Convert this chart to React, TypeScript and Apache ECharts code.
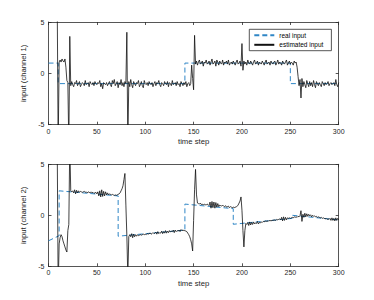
import React, { useEffect, useRef } from "react";
import * as echarts from "echarts";

const X_MIN = 0;
const X_MAX = 300;
const X_INTERVAL = 50;
const Y_MIN = -5;
const Y_MAX = 5;
const Y_INTERVAL = 5;

const SERIES_NAMES = ["real input", "estimated input"];
const Y_NAMES = ["input (channel 1)", "input (channel 2)"];
const X_NAME = "time step";

// real input breakpoints [time step, value]
const realCh1: [number, number][] = [
  [0, 1], [10, 1], [10, -1], [141, -1], [141, 1], [250, 1], [250, -1], [300, -1],
];
const realCh2: [number, number][] = [
  [0, -2.5], [11, -2.0], [11, 2.4], [72, 1.9], [72, -2.05], [141, -1.45], [141, 1.1],
  [191, 0.65], [191, -0.88], [252, -0.3], [252, 0.0], [300, -0.45],
];

// estimated input, one value per time step starting at EST_START
const EST_START = 9;
const estCh1: number[] = [
  7, -7,
  1.1, 1.3, 1.1, 1.4, 1.2, 1.1, 1.4, 0.6, -0.7, -0.9,
  -7, 3.6, -1.2, -0.8, -1.1, -1.3, -0.9, -1.0, -0.7, -1.2,
  -1.0, -0.8, -1.3, -1.1, -0.9, -1.0, -1.2, -0.7, -1.1, -1.0,
  -0.9, -1.3, -0.8, -1.0, -1.1, -0.9, -1.2, -0.8, -1.0, -1.1,
  -0.9, -1.0, -0.7, -1.3, -1.0, -1.5, -0.9, -1.0, -1.1, -0.9,
  -1.2, -1.0, -0.8, -1.1, -1.3, -0.7, -1.0, -0.6, -1.2, -1.0,
  -0.8, -1.4, -0.9, -1.1, -0.6, -1.2, -0.9, -1.3, -0.8, -1.0,
  4.0, -7, -0.8, -1.3, -0.6, -1.1, -1.4, -0.8, -1.0, -1.2,
  -0.9, -1.0, -0.7, -1.3, -1.1, -0.8, -1.2, -1.4, -0.7, -1.0,
  -1.1, -0.9, -1.2, -0.8, -1.0, -1.1, -0.9, -1.3, -1.0, -0.8,
  -1.2, -0.9, -1.0, -0.7, -1.1, -1.3, -0.9, -1.0, -1.2, -0.8,
  -1.0, -1.1, -0.8, -1.3, -0.9, -1.0, -1.2, -0.7, -1.1, -1.0,
  -0.9, -1.2, -0.8, -1.1, -1.0, -1.3, -0.8, -1.0, -1.2, -0.9,
  -1.1, -0.8, -1.3, -1.0, -0.9, -1.2, -1.0, 0.8, -0.5, -1.6,
  3.7, 0.9, 1.2, 0.8, 1.1, 1.3, 0.9, 1.0, 1.2, 0.7,
  1.1, 1.0, 1.3, 0.9, 1.0, 1.2, 0.8, 1.1, 1.4, 0.9,
  1.0, 1.2, 0.7, 1.3, 1.1, 0.8, 1.2, 1.0, 0.9, 1.3,
  0.8, 1.1, 1.0, 1.2, 0.9, 1.3, 0.8, 1.0, 1.1, 0.9,
  1.2, 1.0, 0.8, 1.1, 1.3, 0.9, 1.0, 1.2, 0.7, 2.9,
  0.3, 1.2, 0.9, 1.1, 0.8, 1.3, 1.0, 0.9, 1.2, 1.0,
  0.8, 1.1, 1.3, 0.9, 1.0, 1.2, 0.8, 1.1, 1.0, 0.9,
  1.2, 1.0, 0.8, 1.1, 1.3, 0.9, 1.0, 1.1, 0.8, 1.2,
  1.0, 0.9, 1.1, 1.2, 0.8, 1.0, 1.3, 0.9, 1.1, 1.0,
  0.8, 1.2, 1.0, 0.9, 1.1, 1.3, 0.8, 1.0, 1.2, 0.9,
  1.1, 1.0, 0.8, 1.2, 1.0, 1.1, 0.6, -0.3, -1.2, -0.6,
  -2.4, -0.5, -1.3, -0.8, -1.1, -1.4, -0.7, -1.0, -1.3, -0.8,
  -1.2, -0.9, -1.3, -0.7, -1.1, -1.4, -0.8, -1.0, -1.2, -0.9,
  -1.1, -1.3, -0.8, -1.0, -1.2, -0.9, -1.1, -1.0, -0.8, -1.2,
  -1.0, -0.9, -1.1, -1.0, -0.9, -1.2, -0.6, -1.1, -1.3, -0.9,
];
const estCh2: number[] = [
  7, -7,
  -2.8, -2.2, -1.9, -2.1, -2.5, -2.8, -3.1, -3.4, -3.6, -1.5,
  -0.9, 7, 2.4, 2.3, 2.4, 2.2, 2.5, 2.1, 2.45, 2.2,
  2.4, 2.25, 2.35, 2.3, 2.25, 2.3, 2.35, 2.25, 2.3, 2.2,
  2.3, 2.25, 2.2, 2.3, 2.2, 2.25, 2.15, 2.2, 2.25, 2.1,
  2.3, 1.9, 2.4, 1.8, 2.5, 1.85, 2.35, 1.9, 2.3, 2.0,
  2.2, 2.0, 2.1, 2.05, 2.0, 2.05, 2.0, 1.95, 2.0, 1.95,
  2.0, 2.05, 2.1, 2.2, 2.4, 2.6, 2.9, 3.5, 4.1, 1.0,
  -2.0, -6, -2.1, -1.9, -2.1, -1.8, -2.2, -1.85, -2.1, -1.9,
  -2.05, -1.9, -2.0, -1.95, -1.9, -1.95, -1.9, -1.85, -1.9, -1.85,
  -1.9, -1.8, -1.85, -1.8, -1.75, -1.85, -1.8, -1.7, -1.8, -1.75,
  -1.65, -1.85, -1.6, -1.8, -1.7, -1.75, -1.55, -1.8, -1.6, -1.75,
  -1.5, -1.75, -1.55, -1.7, -1.5, -1.65, -1.55, -1.6, -1.45, -1.7,
  -1.45, -1.6, -1.5, -1.55, -1.45, -1.6, -1.4, -1.5, -1.45, -1.5,
  -1.5, -1.55, -1.6, -1.75, -1.9, -2.1, -2.4, -2.8, -3.5, -0.5,
  2.5, 4.5, 2.0, 1.2, 1.15, 1.1, 1.2, 1.05, 1.1, 1.0,
  1.1, 1.05, 1.0, 1.1, 1.05, 0.95, 1.3, 0.7, 1.35, 0.75,
  1.3, 0.7, 1.25, 0.8, 1.15, 0.85, 1.0, 0.95, 0.9, 1.0,
  0.9, 0.85, 0.95, 0.8, 0.85, 0.9, 0.75, 0.85, 0.8, 0.75,
  0.8, 0.75, 0.8, 0.8, 0.9, 1.0, 1.2, 1.4, 1.8, 0.5,
  -1.5, -3.1, -1.5, -0.8, -0.9, -0.7, -1.0, -0.65, -0.95, -0.7,
  -0.9, -0.65, -0.85, -0.75, -0.8, -0.6, -0.85, -0.7, -0.75, -0.65,
  -0.7, -0.6, -0.65, -0.55, -0.6, -0.55, -0.6, -0.5, -0.55, -0.5,
  -0.55, -0.45, -0.5, -0.45, -0.5, -0.4, -0.45, -0.4, -0.35, -0.45,
  -0.2, -0.55, -0.15, -0.5, -0.2, -0.45, -0.25, -0.3, -0.25, -0.3,
  -0.25, -0.2, -0.25, -0.15, -0.2, -0.15, -0.2, -0.1, -0.15, -0.05,
  0.45, -0.6, 0.1, -0.2, 0.2, -0.15, 0.15, -0.1, 0.1, -0.05,
  0.05, -0.15, 0.0, -0.1, -0.05, -0.15, -0.1, -0.2, -0.15, -0.2,
  -0.25, -0.2, -0.3, -0.25, -0.3, -0.35, -0.3, -0.4, -0.35, -0.4,
  -0.3, -0.5, -0.25, -0.5, -0.3, -0.55, -0.25, -0.5, -0.3, -0.45,
];

const FONT = "'Liberation Sans', Arial, Helvetica, sans-serif";
const AXIS_COLOR = "#2b2b2b";
const TEXT_COLOR = "#262626";
const BLUE = "#2f86c6";

const toPairs = (vals: number[]) => vals.map((v, i) => [EST_START + i, v]);

export default function App() {
  const ref = useRef<HTMLDivElement>(null);
  useEffect(() => {
    if (!ref.current) return;
    const chart = echarts.init(ref.current, undefined, { renderer: "svg" });
    const grids = [
      { left: 48.5, top: 22, width: 290.2, height: 102.7 },
      { left: 48.5, top: 164.3, width: 290.2, height: 102 },
    ];
    const xAxes: any[] = [];
    const yAxes: any[] = [];
    grids.forEach((_, gi) => {
      const common = {
        gridIndex: gi,
        type: "value",
        axisLine: { show: true, onZero: false, lineStyle: { color: AXIS_COLOR, width: 0.8 } },
        axisTick: { show: true, inside: true, length: 3, lineStyle: { color: AXIS_COLOR, width: 0.8 } },
        splitLine: { show: false },
      };
      xAxes.push({
        ...common,
        position: "bottom",
        min: X_MIN,
        max: X_MAX,
        interval: X_INTERVAL,
        axisLabel: { show: true, fontSize: 7, color: TEXT_COLOR, fontFamily: FONT, margin: 3 },
        name: X_NAME,
        nameLocation: "middle",
        nameGap: 13,
        nameTextStyle: { fontSize: 7.7, color: TEXT_COLOR, fontFamily: FONT, fontWeight: "normal" },
      });
      xAxes.push({
        ...common,
        position: "top",
        min: X_MIN,
        max: X_MAX,
        interval: X_INTERVAL,
        axisLabel: { show: false },
      });
      yAxes.push({
        ...common,
        position: "left",
        min: Y_MIN,
        max: Y_MAX,
        interval: Y_INTERVAL,
        axisLabel: { show: true, fontSize: 7, color: TEXT_COLOR, fontFamily: FONT, margin: 4 },
        name: Y_NAMES[gi],
        nameLocation: "middle",
        nameGap: 12,
        nameTextStyle: { fontSize: 7.7, color: TEXT_COLOR, fontFamily: FONT, fontWeight: "normal" },
      });
      yAxes.push({
        ...common,
        position: "right",
        min: Y_MIN,
        max: Y_MAX,
        interval: Y_INTERVAL,
        axisLabel: { show: false },
      });
    });

    const reals = [realCh1, realCh2];
    const ests = [estCh1, estCh2];
    const series: any[] = [];
    grids.forEach((_, gi) => {
      series.push({
        name: SERIES_NAMES[0],
        type: "line",
        xAxisIndex: gi * 2,
        yAxisIndex: gi * 2,
        data: reals[gi],
        symbol: "none",
        showSymbol: false,
        clip: true,
        lineStyle: { color: BLUE, width: 1, type: [5, 3] },
        itemStyle: { color: BLUE },
      });
      series.push({
        name: SERIES_NAMES[1],
        type: "line",
        xAxisIndex: gi * 2,
        yAxisIndex: gi * 2,
        data: toPairs(ests[gi]),
        symbol: "none",
        showSymbol: false,
        clip: true,
        lineStyle: { color: "#111111", width: 0.8 },
        itemStyle: { color: "#111111" },
      });
    });

    chart.setOption({
      animation: false,
      backgroundColor: "#ffffff",
      grid: grids,
      xAxis: xAxes,
      yAxis: yAxes,
      legend: {
        data: SERIES_NAMES,
        orient: "vertical",
        left: 249.3,
        top: 29.3,
        itemWidth: 20,
        itemHeight: 6,
        itemGap: 2.6,
        padding: [2.4, 8, 2.4, 4],
        borderColor: AXIS_COLOR,
        borderWidth: 0.8,
        backgroundColor: "#ffffff",
        selectedMode: false,
        itemStyle: { opacity: 0 },
        textStyle: { fontSize: 6.5, color: "#000000", fontFamily: FONT, lineHeight: 6 },
      },
      series,
    });
    return () => chart.dispose();
  }, []);
  return (
    <div
      ref={ref}
      style={{ position: "fixed", left: 0, top: 0, width: 374, height: 300, background: "#fff" }}
    />
  );
}
